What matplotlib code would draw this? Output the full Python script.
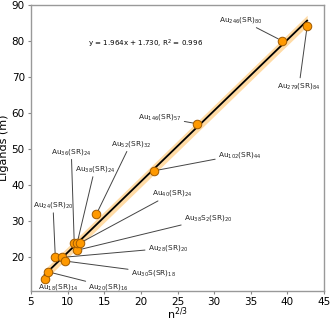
import numpy as np
import matplotlib
matplotlib.use("Agg")
import matplotlib.pyplot as plt

labels = ["Au$_{18}$(SR)$_{14}$", "Au$_{20}$(SR)$_{16}$", "Au$_{24}$(SR)$_{20}$",
          "Au$_{28}$(SR)$_{20}$", "Au$_{30}$S(SR)$_{18}$", "Au$_{36}$(SR)$_{24}$",
          "Au$_{38}$S$_2$(SR)$_{20}$", "Au$_{38}$(SR)$_{24}$", "Au$_{40}$(SR)$_{24}$",
          "Au$_{52}$(SR)$_{32}$", "Au$_{102}$(SR)$_{44}$", "Au$_{146}$(SR)$_{57}$",
          "Au$_{246}$(SR)$_{80}$", "Au$_{279}$(SR)$_{84}$"]
n_atoms = [18, 20, 24, 28, 30, 36, 38, 38, 40, 52, 102, 146, 246, 279]
ligands = [14, 16, 20, 20, 19, 24, 22, 24, 24, 32, 44, 57, 80, 84]
label_x = [8.7, 15.6, 8.0, 23.7, 21.7, 10.5, 29.2, 13.7, 24.3, 18.6, 33.5, 22.6, 33.7, 41.6]
label_y = [11.8, 11.8, 34.5, 22.6, 15.8, 49.3, 30.8, 44.5, 37.8, 51.5, 48.5, 58.9, 85.8, 67.6]
slope, intercept, r2 = 1.964, 1.730, 0.996

x = np.array(n_atoms, dtype=float) ** (2 / 3)
y = np.array(ligands, dtype=float)

fig = plt.figure(figsize=(3.32, 3.23), dpi=100)
ax = fig.add_axes([31 / 332, 32 / 323, 293 / 332, 286.3 / 323])

xf = np.linspace(x.min(), x.max(), 50)
yf = slope * xf + intercept
ax.fill_between(xf, yf - 1.5, yf + 1.5, color="#FFB84D", alpha=0.5, lw=0, zorder=1)
ax.plot(xf, yf, color="black", lw=1.3, zorder=2)

for lab, xi, yi, tx, ty in zip(labels, x, y, label_x, label_y):
    ax.annotate(lab, xy=(xi, yi), xytext=(tx, ty), textcoords="data",
                ha="center", va="center", fontsize=5.3, color="#222222",
                arrowprops=dict(arrowstyle="-", color="#444444", lw=0.7,
                                shrinkA=0, shrinkB=3), zorder=3)

ax.scatter(x, y, s=38, facecolor="#FF9900", edgecolor="#A05A00", lw=0.7, zorder=4)

ax.text(20.7, 79.2, f"y = {slope:.3f}x + {intercept:.3f}, R$^2$ = {r2:.3f}",
        ha="center", va="center", fontsize=5.1)

ax.set_xlim(5, 45)
ax.set_ylim(10.7, 90)
ax.set_xticks([5, 10, 15, 20, 25, 30, 35, 40, 45])
ax.set_yticks([20, 30, 40, 50, 60, 70, 80, 90])
ax.set_xlabel("n$^{2/3}$", fontsize=8, labelpad=-1)
ax.set_ylabel("Ligands (m)", fontsize=8, labelpad=2)
ax.tick_params(labelsize=7.5, length=2.5, width=0.8, color="#888888", pad=2)
for s in ax.spines.values():
    s.set_color("#999999")
    s.set_linewidth(1.0)

fig.savefig("out.png", dpi=100)
